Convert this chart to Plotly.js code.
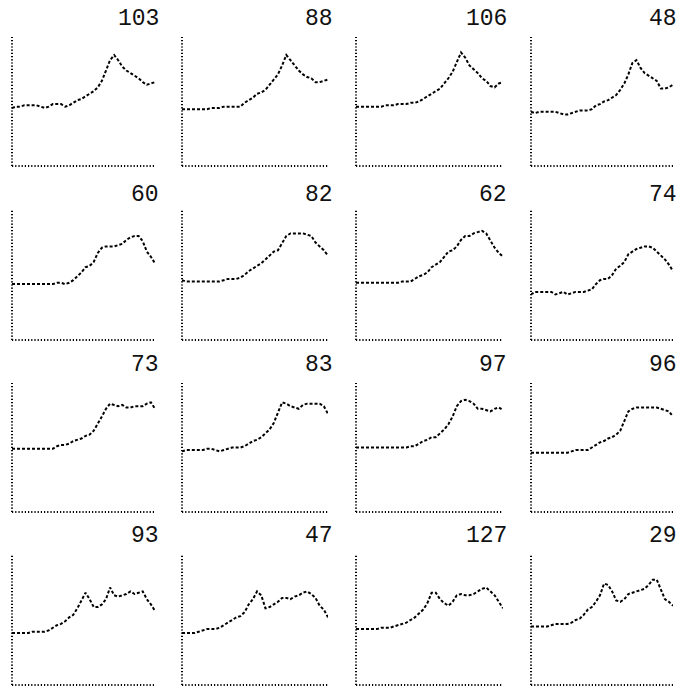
<!DOCTYPE html>
<html>
<head>
<meta charset="utf-8">
<script src="https://cdn.plot.ly/plotly-3.0.1.min.js"></script>
<style>html,body{margin:0;padding:0;background:#fff;}#chart{width:685px;height:687px;}</style>
</head>
<body>
<div id="chart"></div>
<script>
// Panel titles (row by row)
const titles = ['103','88','106','48','60','82','62','74','73','83','97','96','93','47','127','29'];

// Series values (0 = bottom axis, 100 = top of the vertical axis), 36 samples each
const s103 = [45,46,46,47,47,47,47,46,45,46,48,48,48,46,47,49,51,52,54,56,58,61,66,74,82,86,82,77,74,72,70,68,65,63,64,65];
const s88  = [44,44,44,44,44,44,44,45,45,45,46,46,46,46,46,49,51,53,56,57,59,63,67,71,78,86,82,78,74,71,69,68,65,65,66,67];
const s106 = [46,46,46,46,46,46,46,47,47,47,48,48,48,49,49,50,52,54,56,58,60,64,68,73,80,88,84,78,75,72,68,66,62,61,64,65];
const s48  = [42,41,42,42,42,42,42,41,40,40,41,42,43,43,43,44,47,48,50,51,53,55,59,64,71,80,82,76,72,70,68,66,60,60,61,63];
const s60  = [43,43,43,43,43,43,43,43,43,43,43,44,44,43,44,46,49,52,56,57,60,67,71,72,72,72,73,74,77,79,80,80,76,68,64,59];
const s82  = [46,45,45,45,45,45,45,45,45,45,46,47,47,47,48,50,53,55,57,59,62,65,68,69,74,80,82,82,82,82,81,80,75,72,69,65];
const s62  = [44,44,44,44,44,44,44,44,44,44,44,45,45,45,47,49,50,52,56,58,60,64,68,69,72,77,80,80,82,83,84,82,76,71,67,64];
const s74  = [35,37,37,37,37,37,35,36,37,35,36,37,37,37,38,39,43,46,47,47,50,55,57,60,66,68,70,71,72,72,71,68,65,62,58,53];
const s73  = [49,49,49,49,49,49,49,49,49,49,49,51,52,52,53,55,56,57,59,60,63,68,74,80,84,83,82,83,81,81,82,82,82,84,85,80];
const s83  = [47,48,48,48,48,48,49,49,48,47,48,49,50,50,50,51,53,55,56,58,61,64,69,77,85,84,82,81,80,83,84,84,84,84,82,76];
const s97  = [50,50,50,50,50,50,50,50,50,50,50,50,50,51,51,53,55,56,58,58,61,64,68,74,82,86,87,86,84,80,80,79,78,80,81,79];
const s96  = [46,46,46,46,46,46,46,46,46,46,47,48,48,48,48,50,52,54,55,57,58,60,63,70,78,80,81,81,81,81,81,81,80,79,78,74];
const s93  = [40,40,40,40,40,41,41,41,41,42,44,46,47,49,52,54,59,65,71,66,60,60,62,66,75,69,68,69,70,72,70,71,72,66,62,57];
const s47  = [40,40,40,40,41,42,43,43,43,44,46,48,50,52,53,56,62,66,72,69,59,60,62,64,67,67,66,68,69,71,72,70,67,61,58,52];
const s127 = [43,43,43,43,43,43,44,44,44,45,46,47,48,50,52,55,58,63,71,71,66,63,61,64,69,70,69,69,70,72,74,75,72,69,64,59];
const s29  = [45,45,45,45,45,46,47,47,47,47,48,50,51,54,58,60,64,69,78,77,72,65,64,66,70,71,72,73,74,77,81,81,73,66,64,61];

const seriesList = [s103,s88,s106,s48,s60,s82,s62,s74,s73,s83,s97,s96,s93,s47,s127,s29];

// Layout geometry (pixels)
const W = 685, H = 687;
const colLeft = [12,182,356,531], colRight = [155,328,503,673];
const rowTop = [37,210,383,555], rowBottom = [166,340,512,685];
const titleRight = [161,335,509,679], titleMid = [19,195,365,536];

const traces = [], shapes = [], annotations = [];
const layout = {
  width: W, height: H, margin: {l:0,r:0,t:0,b:0},
  paper_bgcolor: '#fff', plot_bgcolor: '#fff', showlegend: false
};

seriesList.forEach((ys, k) => {
  const r = Math.floor(k/4), c = k % 4;
  const n = k + 1;
  const xa = n === 1 ? 'x' : 'x' + n, ya = n === 1 ? 'y' : 'y' + n;
  const xKey = n === 1 ? 'xaxis' : 'xaxis' + n, yKey = n === 1 ? 'yaxis' : 'yaxis' + n;
  const xs = ys.map((_, i) => i);
  traces.push({
    x: xs, y: ys, xaxis: xa, yaxis: ya, type: 'scatter', mode: 'lines',
    line: {color: '#000', width: 2, dash: '3px,2px'}, hoverinfo: 'skip'
  });
  const axisCommon = {showgrid:false, zeroline:false, showline:false, showticklabels:false, ticks:'', fixedrange:true};
  layout[xKey] = Object.assign({}, axisCommon, {
    domain: [colLeft[c]/W, colRight[c]/W], range: [0, ys.length - 1], anchor: ya
  });
  layout[yKey] = Object.assign({}, axisCommon, {
    domain: [1 - rowBottom[r]/H, 1 - rowTop[r]/H], range: [0, 100], anchor: xa
  });
  const dot = {color:'#000', width: 2, dash: '1.2px,2px'};
  shapes.push({type:'line', xref: xa + ' domain', yref: ya + ' domain', x0:0, x1:0, y0:0, y1:1, line: dot});
  shapes.push({type:'line', xref: xa + ' domain', yref: ya + ' domain', x0:0, x1:1, y0:0, y1:0, line: dot});
  annotations.push({
    text: titles[k], xref:'paper', yref:'paper', x: titleRight[c]/W, y: 1 - titleMid[r]/H,
    xanchor:'right', yanchor:'middle', showarrow:false,
    font: {family: 'Liberation Mono, monospace', size: 23, color: '#111'}
  });
});

layout.shapes = shapes;
layout.annotations = annotations;

Plotly.newPlot('chart', traces, layout, {staticPlot: true, displayModeBar: false});
</script>
</body>
</html>
